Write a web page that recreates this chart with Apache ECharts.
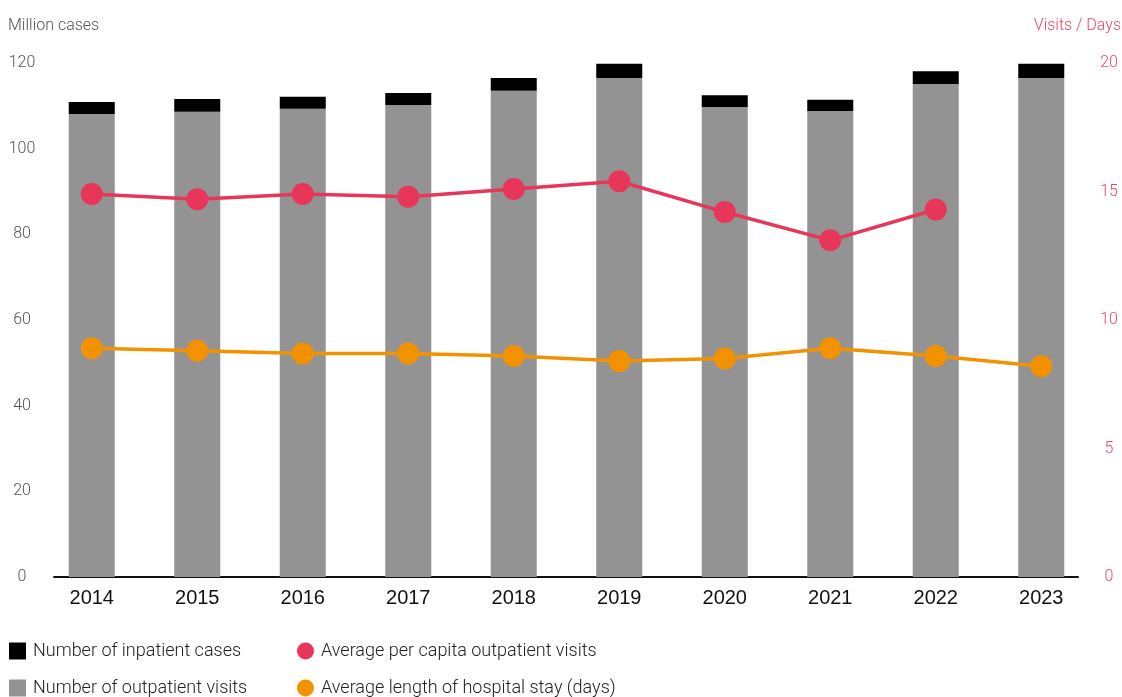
<!DOCTYPE html>
<html>
<head>
<meta charset="utf-8">
<script src="https://cdn.jsdelivr.net/npm/echarts@6/dist/echarts.min.js"></script>
<style>
  html, body { margin: 0; padding: 0; background: #fff; }
  #chart { width: 1122px; height: 697px; }
</style>
</head>
<body>
<div id="chart"></div>
<script>
// Hospital activity, 2014–2023
const years = ['2014', '2015', '2016', '2017', '2018', '2019', '2020', '2021', '2022', '2023'];
// Million cases (stacked bars)
const outpatientVisits = [108.1, 108.6, 109.3, 110.2, 113.5, 116.5, 109.7, 108.8, 115.1, 116.5];
const inpatientCases   = [2.8, 3.0, 2.8, 2.8, 3.0, 3.3, 2.8, 2.6, 3.0, 3.3];
// Visits / days (right axis)
const perCapitaVisits  = [14.9, 14.7, 14.9, 14.8, 15.1, 15.4, 14.2, 13.1, 14.3, null];
const avgLengthOfStay  = [8.9, 8.8, 8.7, 8.7, 8.6, 8.4, 8.5, 8.9, 8.6, 8.2];
const leftTicks  = [0, 20, 40, 60, 80, 100, 120];
const rightTicks = [0, 5, 10, 15, 20];

const RED = '#E8365A';
const ORANGE = '#F39200';
const GRAY = '#939393';
const LIGHT = 'Roboto';

const chart = echarts.init(document.getElementById('chart'), null, { renderer: 'canvas' });

const legendText = { fontFamily: LIGHT, fontWeight: 300, fontSize: 18, lineHeight: 18, color: '#222', padding: [0, 0, 0, 2] };

chart.setOption({
  animation: false,
  backgroundColor: '#fff',
  title: [
    { text: 'Million cases', left: 8, top: 18, padding: 0,
      textStyle: { fontFamily: LIGHT, fontWeight: 300, fontSize: 16, color: '#555' } },
    { text: 'Visits / Days', right: 1, top: 18, padding: 0,
      textStyle: { fontFamily: LIGHT, fontWeight: 300, fontSize: 16, color: '#E9466A' } }
  ],
  grid: [
    { left: 39, right: 28, top: 63, bottom: 120 },
    // baseline only
    { left: 54, right: 44, top: 63, bottom: 120 }
  ],
  xAxis: [
    {
      type: 'category', gridIndex: 0, data: years,
      axisLine: { show: false }, axisTick: { show: false },
      axisLabel: { margin: 11, fontFamily: 'Liberation Sans', fontSize: 20, color: '#111' }
    },
    {
      type: 'value', gridIndex: 1, min: 0, max: 1,
      axisLine: { show: true, lineStyle: { color: '#111', width: 2 } },
      axisTick: { show: false }, axisLabel: { show: false }, splitLine: { show: false }
    }
  ],
  yAxis: [
    {
      type: 'value', gridIndex: 0, min: leftTicks[0], max: leftTicks[leftTicks.length - 1],
      interval: leftTicks[1] - leftTicks[0], position: 'left',
      axisLine: { show: false }, axisTick: { show: false }, splitLine: { show: false },
      axisLabel: { margin: 17, align: 'center', fontFamily: LIGHT, fontWeight: 300, fontSize: 16, color: '#555' }
    },
    {
      type: 'value', gridIndex: 0, min: rightTicks[0], max: rightTicks[rightTicks.length - 1],
      interval: rightTicks[1] - rightTicks[0], position: 'right',
      axisLine: { show: false }, axisTick: { show: false }, splitLine: { show: false },
      axisLabel: { margin: 15, align: 'center', fontFamily: LIGHT, fontWeight: 300, fontSize: 16, color: '#E9466A' }
    },
    { type: 'value', gridIndex: 1, show: false, min: 0, max: 1 }
  ],
  legend: [
    {
      orient: 'vertical', left: 9, top: 642, height: 120, padding: 0, itemGap: 19,
      itemWidth: 17, itemHeight: 17, icon: 'rect',
      textStyle: legendText,
      data: ['Number of inpatient cases', 'Number of outpatient visits']
    },
    {
      orient: 'vertical', left: 297, top: 642, height: 120, padding: 0, itemGap: 19,
      itemWidth: 17, itemHeight: 17, icon: 'circle',
      textStyle: legendText,
      data: ['Average per capita outpatient visits', 'Average length of hospital stay (days)']
    }
  ],
  series: [
    {
      name: 'Number of outpatient visits', type: 'bar', stack: 'cases',
      xAxisIndex: 0, yAxisIndex: 0, barWidth: 46,
      itemStyle: { color: GRAY }, data: outpatientVisits
    },
    {
      name: 'Number of inpatient cases', type: 'bar', stack: 'cases',
      xAxisIndex: 0, yAxisIndex: 0, barWidth: 46,
      itemStyle: { color: '#000' }, data: inpatientCases
    },
    {
      name: 'Average per capita outpatient visits', type: 'line',
      xAxisIndex: 0, yAxisIndex: 1, z: 5,
      symbol: 'circle', symbolSize: 22,
      lineStyle: { color: RED, width: 3.5 }, itemStyle: { color: RED },
      data: perCapitaVisits
    },
    {
      name: 'Average length of hospital stay (days)', type: 'line',
      xAxisIndex: 0, yAxisIndex: 1, z: 5,
      symbol: 'circle', symbolSize: 22,
      lineStyle: { color: ORANGE, width: 3.5 }, itemStyle: { color: ORANGE },
      data: avgLengthOfStay
    }
  ]
});
</script>
</body>
</html>
